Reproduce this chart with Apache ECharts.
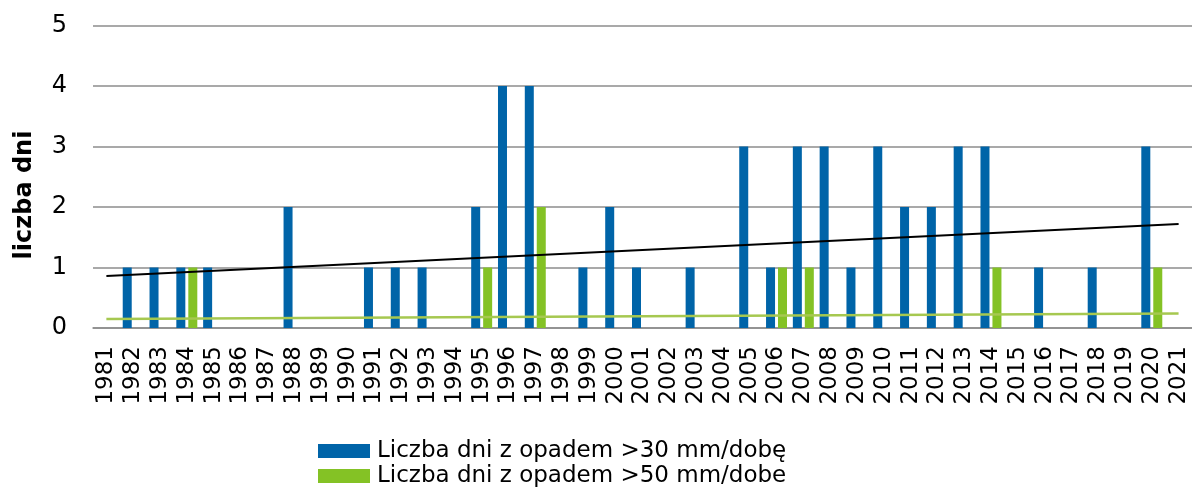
<!DOCTYPE html>
<html>
<head>
<meta charset="utf-8">
<title>Liczba dni z opadem</title>
<script src="https://cdn.jsdelivr.net/npm/echarts@6/dist/echarts.min.js"></script>
<style>
  html, body { margin: 0; padding: 0; background: #fff; }
  #chart { width: 1192px; height: 488px; }
</style>
</head>
<body>
<div id="chart"></div>
<script>
// Years 1981–2021
const years = [
  '1981','1982','1983','1984','1985','1986','1987','1988','1989','1990',
  '1991','1992','1993','1994','1995','1996','1997','1998','1999','2000',
  '2001','2002','2003','2004','2005','2006','2007','2008','2009','2010',
  '2011','2012','2013','2014','2015','2016','2017','2018','2019','2020','2021'
];

// Days with precipitation > 30 mm/day
const days30 = [
  0, 1, 1, 1, 1, 0, 0, 2, 0, 0,
  1, 1, 1, 0, 2, 4, 4, 0, 1, 2,
  1, 0, 1, 0, 3, 1, 3, 3, 1, 3,
  2, 2, 3, 3, 0, 1, 0, 1, 0, 3, 0
];

// Days with precipitation > 50 mm/day
const days50 = [
  0, 0, 0, 1, 0, 0, 0, 0, 0, 0,
  0, 0, 0, 0, 1, 0, 2, 0, 0, 0,
  0, 0, 0, 0, 0, 1, 1, 0, 0, 0,
  0, 0, 0, 1, 0, 0, 0, 0, 0, 1, 0
];

// Linear trend end values (first and last year)
const trend30 = [0.86, 1.72];
const trend50 = [0.15, 0.24];

const yTicks = [0, 1, 2, 3, 4, 5];

const name30 = 'Liczba dni z opadem >30 mm/dobę';
const name50 = 'Liczba dni z opadem >50 mm/dobe';

const FONT = 'DejaVu Sans';

const chart = echarts.init(document.getElementById('chart'), null, { renderer: 'canvas' });

chart.setOption({
  animation: false,
  backgroundColor: '#ffffff',
  grid: { left: 93, right: 0, top: 25.5, bottom: 160, containLabel: false },
  legend: {
    orient: 'vertical',
    left: 318,
    top: 439,
    height: 120,
    padding: 0,
    itemWidth: 52,
    itemHeight: 14,
    itemGap: 1,
    icon: 'rect',
    data: [name30, name50],
    textStyle: { fontFamily: FONT, fontSize: 23, color: '#000', padding: [0, 0, 0, 2], lineHeight: 24 }
  },
  xAxis: {
    type: 'category',
    data: years,
    boundaryGap: true,
    axisLine: { show: true, lineStyle: { color: '#8c8c8c', width: 1.5 } },
    axisTick: { show: false },
    axisLabel: {
      interval: 0,
      rotate: 90,
      margin: 18,
      fontFamily: FONT,
      fontSize: 23,
      color: '#000'
    },
    splitLine: { show: false }
  },
  yAxis: {
    type: 'value',
    min: yTicks[0],
    max: yTicks[yTicks.length - 1],
    interval: 1,
    axisLine: { show: false },
    axisTick: { show: false },
    axisLabel: { margin: 26, fontFamily: FONT, fontSize: 24, color: '#000' },
    splitLine: { show: true, lineStyle: { color: '#8c8c8c', width: 1.5 } }
  },
  graphic: [{
    type: 'text',
    x: 25,
    y: 195,
    rotation: Math.PI / 2,
    style: {
      text: 'liczba dni',
      fontFamily: FONT,
      fontWeight: 'bold',
      fontSize: 24,
      fill: '#000',
      align: 'center',
      verticalAlign: 'middle'
    }
  }],
  series: [
    {
      name: name30,
      type: 'bar',
      data: days30,
      barWidth: 9,
      barGap: '33%',
      itemStyle: { color: '#0064a8' },
      z: 2
    },
    {
      name: name50,
      type: 'bar',
      data: days50,
      barWidth: 9,
      itemStyle: { color: '#84c225' },
      z: 2
    },
    {
      name: 'trend30',
      type: 'line',
      data: [[years[0], trend30[0]], [years[years.length - 1], trend30[1]]],
      showSymbol: false,
      lineStyle: { color: '#000', width: 2 },
      z: 3,
      silent: true
    },
    {
      name: 'trend50',
      type: 'line',
      data: [[years[0], trend50[0]], [years[years.length - 1], trend50[1]]],
      showSymbol: false,
      lineStyle: { color: '#a6c850', width: 2.5 },
      z: 3,
      silent: true
    }
  ]
});
</script>
</body>
</html>
